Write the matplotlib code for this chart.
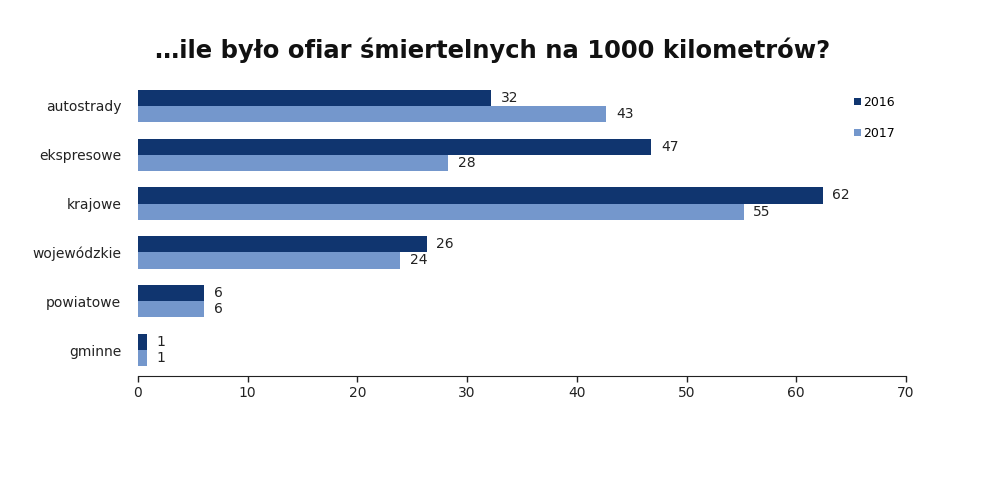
import matplotlib.pyplot as plt
import numpy as np

categories = ["autostrady", "ekspresowe", "krajowe", "wojewódzkie", "powiatowe", "gminne"]
values_2016 = [32.2, 46.8, 62.4, 26.3, 6.0, 0.8]
values_2017 = [42.7, 28.3, 55.2, 23.9, 6.0, 0.8]
labels_2016 = ["32", "47", "62", "26", "6", "1"]
labels_2017 = ["43", "28", "55", "24", "6", "1"]

c2016 = "#10356f"
c2017 = "#7497cc"

fig = plt.figure(figsize=(10, 4.84), dpi=100)
ax = fig.add_axes([0.138, 0.223, 0.768, 0.612])

y = np.arange(len(categories))
h = 0.33
b1 = ax.barh(y - h / 2, values_2016, height=h, color=c2016, label="2016")
b2 = ax.barh(y + h / 2, values_2017, height=h, color=c2017, label="2017")

for bars, labs in ((b1, labels_2016), (b2, labels_2017)):
    for bar, lab in zip(bars, labs):
        ax.annotate(lab, (bar.get_width(), bar.get_y() + bar.get_height() / 2),
                    xytext=(7, 0), textcoords="offset points",
                    va="center", ha="left", fontsize=10, color="#222222")

ax.set_yticks(y)
ax.set_yticklabels(categories, fontsize=10, color="#222222")
ax.set_ylim(len(categories) - 0.47, -0.53)
ax.set_xlim(0, 70)
ax.set_xticks(range(0, 71, 10))
ax.tick_params(axis="x", labelsize=10, colors="#222222", length=4, width=1)
ax.tick_params(axis="y", length=0, pad=12)

for s in ("top", "right", "left"):
    ax.spines[s].set_visible(False)
ax.spines["bottom"].set_color("#222222")

ax.legend(loc="upper right", bbox_to_anchor=(1.0, 0.985), frameon=False,
          fontsize=9, handlelength=0.5, handleheight=0.5, handletextpad=0.2,
          labelspacing=1.45)

fig.suptitle("…ile było ofiar śmiertelnych na 1000 kilometrów?", x=0.493, y=0.897,
             va="center", fontsize=17.5, fontweight="bold", color="#111111")

fig.savefig("out.png")
